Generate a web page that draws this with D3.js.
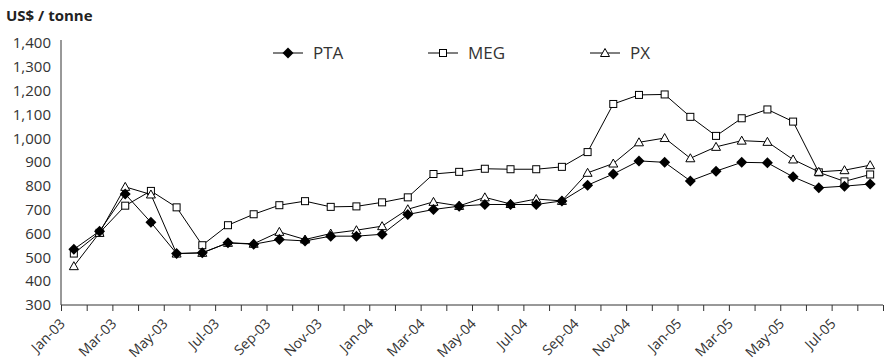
<!DOCTYPE html>
<html><head><meta charset="utf-8">
<script src="https://cdn.jsdelivr.net/npm/d3@7"></script>
<style>
html,body{margin:0;padding:0;background:#fff;}
text{font-family:"Open Sans","Noto Sans",sans-serif;}
</style></head>
<body><svg id="c" width="888" height="362"></svg>
<script>
const months = ["Jan-03","Feb-03","Mar-03","Apr-03","May-03","Jun-03","Jul-03","Aug-03","Sep-03","Oct-03","Nov-03","Dec-03",
"Jan-04","Feb-04","Mar-04","Apr-04","May-04","Jun-04","Jul-04","Aug-04","Sep-04","Oct-04","Nov-04","Dec-04",
"Jan-05","Feb-05","Mar-05","Apr-05","May-05","Jun-05","Jul-05","Aug-05"];
const pta = [534,610,766,647,516,519,561,555,575,569,589,589,597,680,701,715,722,722,722,737,803,850,905,899,821,862,899,897,838,792,799,808];
const meg = [516,603,717,779,710,551,635,681,719,736,712,714,731,752,850,859,872,870,870,880,942,1144,1182,1184,1090,1010,1084,1121,1070,857,819,848];
const px  = [463,603,796,764,516,519,561,557,607,575,600,614,631,702,733,716,752,724,745,737,855,894,983,1001,916,964,990,985,911,859,866,887];
const yTicks = [300,400,500,600,700,800,900,1000,1100,1200,1300,1400];
const seriesNames = ["PTA","MEG","PX"];

const svg = d3.select("#c");
const ink = "#000";
const txt = "#333";
const x = d3.scaleLinear().domain([0, months.length]).range([61, 883]);
const y = d3.scaleLinear().domain([300, 1400]).range([305, 43]);

// title
svg.append("text").attr("x",6).attr("y",21).attr("font-size",15).attr("font-weight","bold").attr("fill","#222").text("US$ / tonne");

// y axis
const ya = svg.append("g").attr("transform","translate(61,0)")
  .call(d3.axisLeft(y).tickValues(yTicks).tickFormat(d3.format(",")).tickSize(0).tickPadding(10));
ya.select(".domain").attr("stroke","#333").attr("d","M0,40V305");
ya.selectAll("text").attr("font-size",15).attr("fill",txt).attr("font-family","Open Sans");

// x axis
const xa = svg.append("g").attr("transform","translate(0,305)")
  .call(d3.axisBottom(x).tickValues(d3.range(months.length+1)).tickSize(6).tickSizeOuter(0)
    .tickFormat(i => (i % 2 === 0 && i < months.length) ? months[i] : ""));
xa.select(".domain").attr("stroke","#333").attr("d","M61,0H883");
xa.selectAll(".tick line").attr("stroke","#333");
xa.selectAll(".tick text").attr("font-size",14).attr("fill",txt).attr("font-family","Open Sans")
  .attr("text-anchor","end").attr("dy","0.35em")
  .attr("transform","translate(1,16) rotate(-45)").attr("y",0).attr("x",0);

const cx = i => x(i + 0.5);
const line = d3.line().x((d,i)=>cx(i)).y(d=>y(d));

function marker(g, name, tx, ty){
  if(name==="PTA"){
    g.append("path").attr("d","M0,-5.5L5.5,0L0,5.5L-5.5,0Z").attr("transform",`translate(${tx},${ty})`).attr("fill",ink);
  } else if(name==="MEG"){
    g.append("rect").attr("x",tx-3.5).attr("y",ty-3.5).attr("width",7).attr("height",7).attr("fill","#fff").attr("stroke",ink).attr("stroke-width",1);
  } else {
    g.append("path").attr("d","M0,-4.5L4.5,3.5L-4.5,3.5Z").attr("transform",`translate(${tx},${ty})`).attr("fill","#fff").attr("stroke",ink).attr("stroke-width",1);
  }
}

const data = {PTA: pta, MEG: meg, PX: px};
["MEG","PX","PTA"].forEach(name => {
  const g = svg.append("g");
  g.append("path").attr("d", line(data[name])).attr("fill","none").attr("stroke",ink).attr("stroke-width",1);
  data[name].forEach((v,i) => marker(g, name, cx(i), y(v)));
});

// legend
const legX = [273, 428, 590];
seriesNames.forEach((name, k) => {
  const g = svg.append("g");
  g.append("line").attr("x1",legX[k]).attr("x2",legX[k]+30).attr("y1",53).attr("y2",53).attr("stroke",ink).attr("stroke-width",1);
  marker(g, name, legX[k]+15, 53);
  g.append("text").attr("x",legX[k]+40).attr("y",53).attr("dy","0.35em").attr("font-size",17).attr("fill",txt).text(name);
});
</script></body></html>
